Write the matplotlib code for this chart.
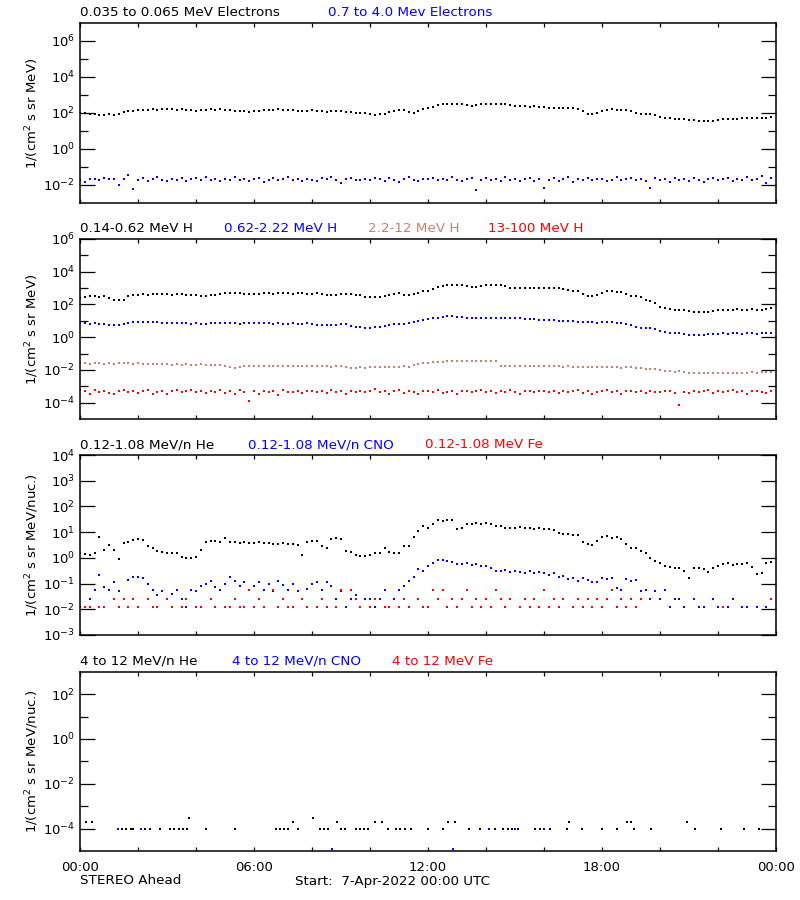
import matplotlib

matplotlib.use("Agg")
import matplotlib.pyplot as plt
import numpy as np
from matplotlib.ticker import NullFormatter

plt.rcParams["font.family"] = ["DejaVu Sans"]
plt.rcParams["font.size"] = 9

# 10-minute samples over 7-Apr-2022, log10 of the flux
hours = np.arange(144) / 6.0
nan = np.nan

# panel 1: electrons
e_lo_log = [
    2.0, 1.98, 1.95, 1.92, 1.9, 1.9, 1.92, 1.9, 1.95, 2.05, 2.1, 2.12,
    2.15, 2.18, 2.16, 2.2, 2.18, 2.2, 2.22, 2.2, 2.18, 2.2, 2.16, 2.14,
    2.12, 2.15, 2.18, 2.2, 2.18, 2.2, 2.18, 2.15, 2.12, 2.1, 2.1, 2.08,
    2.1, 2.12, 2.14, 2.15, 2.17, 2.2, 2.18, 2.16, 2.15, 2.12, 2.1, 2.12,
    2.14, 2.12, 2.1, 2.08, 2.1, 2.12, 2.1, 2.05, 2.03, 2.02, 2.0, 1.98,
    1.92, 1.9, 1.92, 1.95, 2.05, 2.12, 2.17, 2.15, 2.05, 2.0, 2.1, 2.2,
    2.28, 2.35, 2.42, 2.48, 2.5, 2.52, 2.5, 2.48, 2.45, 2.4, 2.42, 2.48,
    2.5, 2.52, 2.5, 2.5, 2.48, 2.45, 2.4, 2.38, 2.37, 2.36, 2.38, 2.36,
    2.32, 2.3, 2.28, 2.28, 2.3, 2.28, 2.27, 2.25, 2.1, 1.97, 1.95, 2.0,
    2.1, 2.18, 2.2, 2.18, 2.17, 2.16, 2.1, 2.0, 1.95, 1.96, 1.93, 1.9,
    1.8, 1.72, 1.7, 1.68, 1.66, 1.65, 1.62, 1.6, 1.58, 1.55, 1.53, 1.55,
    1.62, 1.66, 1.68, 1.68, 1.66, 1.7, 1.72, 1.7, 1.72, 1.74, 1.75, 1.76,
]
e_hi_log = [
    -1.72, -1.82, -1.68, -1.66, -1.7, -1.62, -1.68, -1.64, -1.98, -1.66, -1.42, -2.2,
    -1.7, -1.62, -1.75, -1.68, -1.58, -1.72, -1.8, -1.65, -1.7, -1.6, -1.76, -1.66,
    -1.62, -1.7, -1.56, -1.74, -1.68, -1.8, -1.64, -1.7, -1.58, -1.72, -1.66, -1.75,
    -1.68, -1.6, -1.85, -1.7, -1.62, -1.74, -1.66, -1.58, -1.72, -1.68, -1.8, -1.64,
    -1.7, -1.76, -1.62, -1.68, -1.56, -1.72, -1.9, -1.66, -1.6, -1.74, -1.7, -1.64,
    -1.72, -1.6, -1.68, -1.78, -1.62, -1.7, -1.84, -1.66, -1.58, -1.72, -1.76, -1.64,
    -1.68, -1.6, -1.74, -1.66, -1.72, -1.58, -1.7, -1.8, -1.64, -1.62, -2.3, -1.7,
    -1.62, -1.72, -1.66, -1.8, -1.58, -1.7, -1.64, -1.75, -1.68, -1.6, -1.78, -1.66,
    -2.14, -1.7, -1.62, -1.76, -1.68, -1.58, -1.82, -1.66, -1.72, -1.6, -1.74, -1.68,
    -1.64, -1.8, -1.7, -1.58, -1.74, -1.66, -1.6, -1.72, -1.68, -1.78, -2.14, -1.62,
    -1.7, -1.66, -1.84, -1.6, -1.72, -1.68, -1.76, -1.62, -1.7, -1.82, -1.66, -1.6,
    -1.74, -1.68, -1.62, -1.78, -1.66, -1.72, -1.58, -1.7, -1.64, -1.52, -1.88, -1.6,
]

# panel 2: protons
h_lo_log = [
    2.41, 2.45, 2.5, 2.52, 2.48, 2.5, 2.42, 2.3, 2.28, 2.3, 2.5, 2.58,
    2.6, 2.62, 2.6, 2.63, 2.61, 2.64, 2.62, 2.6, 2.62, 2.63, 2.6, 2.58,
    2.55, 2.52, 2.53, 2.55, 2.6, 2.65, 2.68, 2.7, 2.69, 2.68, 2.66, 2.64,
    2.63, 2.66, 2.68, 2.67, 2.66, 2.68, 2.7, 2.68, 2.66, 2.67, 2.69, 2.66,
    2.65, 2.67, 2.64, 2.6, 2.58, 2.6, 2.62, 2.64, 2.66, 2.6, 2.55, 2.48,
    2.45, 2.44, 2.46, 2.5, 2.55, 2.62, 2.67, 2.6, 2.57, 2.62, 2.72, 2.8,
    2.85, 2.95, 3.05, 3.12, 3.18, 3.2, 3.18, 3.16, 3.1, 3.06, 3.05, 3.1,
    3.16, 3.18, 3.18, 3.17, 3.1, 3.02, 3.0, 2.99, 2.98, 2.98, 3.0, 2.98,
    3.0, 3.02, 3.03, 3.0, 2.95, 2.88, 2.82, 2.8, 2.65, 2.5, 2.49, 2.6,
    2.7, 2.82, 2.81, 2.78, 2.75, 2.65, 2.52, 2.5, 2.45, 2.25, 2.2, 2.1,
    1.82, 1.76, 1.7, 1.68, 1.66, 1.65, 1.62, 1.56, 1.54, 1.53, 1.55, 1.6,
    1.65, 1.68, 1.69, 1.68, 1.7, 1.69, 1.68, 1.7, 1.69, 1.66, 1.72, 1.76,
]
h_mid_log = [
    0.84, 0.85, 0.82, 0.84, 0.83, 0.8, 0.76, 0.75, 0.74, 0.8, 0.88, 0.9,
    0.9, 0.92, 0.9, 0.91, 0.9, 0.88, 0.86, 0.85, 0.84, 0.85, 0.84, 0.83,
    0.84, 0.82, 0.83, 0.85, 0.84, 0.86, 0.84, 0.85, 0.84, 0.83, 0.84, 0.85,
    0.84, 0.84, 0.85, 0.84, 0.83, 0.84, 0.82, 0.83, 0.84, 0.83, 0.82, 0.84,
    0.78, 0.74, 0.72, 0.72, 0.74, 0.76, 0.8, 0.78, 0.7, 0.64, 0.6, 0.58,
    0.58, 0.6, 0.62, 0.66, 0.72, 0.78, 0.82, 0.82, 0.84, 0.9, 0.98, 1.02,
    1.1, 1.16, 1.2, 1.25, 1.27, 1.28, 1.26, 1.22, 1.2, 1.18, 1.17, 1.16,
    1.16, 1.17, 1.16, 1.17, 1.16, 1.15, 1.16, 1.15, 1.14, 1.12, 1.1, 1.08,
    1.06, 1.04, 1.02, 1.0, 0.98, 0.98, 0.96, 0.95, 0.94, 0.92, 0.9, 0.88,
    0.9, 0.92, 0.9, 0.88, 0.86, 0.8, 0.72, 0.62, 0.58, 0.56, 0.55, 0.5,
    0.35, 0.29, 0.28, 0.27, 0.25, 0.2, 0.15, 0.12, 0.11, 0.13, 0.18, 0.22,
    0.22, 0.23, 0.22, 0.24, 0.23, 0.22, 0.24, 0.23, 0.22, 0.25, 0.24, 0.23,
]
h_hi_log = [
    -1.6, -1.58, -1.62, -1.6, -1.59, -1.61, -1.6, -1.62, -1.6, -1.58, -1.6, -1.61,
    -1.6, -1.62, -1.63, -1.62, -1.64, -1.66, -1.65, -1.67, -1.66, -1.68, -1.66, -1.67,
    -1.68, -1.66, -1.67, -1.68, -1.7, -1.72, -1.78, -1.85, -1.87, -1.8, -1.78, -1.79,
    -1.78, -1.76, -1.78, -1.77, -1.76, -1.78, -1.77, -1.76, -1.78, -1.77, -1.79, -1.78,
    -1.77, -1.78, -1.76, -1.78, -1.8, -1.78, -1.77, -1.82, -1.86, -1.87, -1.85, -1.86,
    -1.84, -1.82, -1.8, -1.81, -1.8, -1.82, -1.8, -1.79, -1.8, -1.72, -1.65, -1.6,
    -1.58, -1.54, -1.52, -1.5, -1.48, -1.46, -1.46, -1.45, -1.46, -1.45, -1.46, -1.44,
    -1.45, -1.46, -1.44, -1.74, -1.76, -1.75, -1.77, -1.76, -1.75, -1.76, -1.74, -1.75,
    -1.76, -1.75, -1.77, -1.78, -1.8, -1.79, -1.8, -1.82, -1.81, -1.82, -1.8, -1.82,
    -1.82, -1.83, -1.82, -1.84, -1.86, -1.85, -1.84, -1.88, -1.9, -1.95, -1.94, -1.96,
    -2.0, -2.05, -2.08, -2.1, -2.06, -2.1, -2.16, -2.18, -2.2, -2.19, -2.2, -2.21,
    -2.2, -2.21, -2.2, -2.19, -2.2, -2.21, -2.18, -2.15, -2.16, -2.14, -2.15, -2.14,
]
h_vhi_log = [
    -3.22, -3.3, -3.45, -3.25, -3.35, -3.28, -3.4, -3.5, -3.3, -3.2, -3.36, -3.26,
    -3.4, -3.3, -3.22, -3.45, -3.32, -3.28, -3.5, -3.3, -3.24, -3.38, -3.3, -3.2,
    -3.34, -3.28, -3.42, -3.3, -3.36, -3.25, -3.4, -3.3, -3.5, -3.22, -3.34, -3.9,
    -3.3, -3.45, -3.26, -3.36, -3.3, -3.52, -3.24, -3.32, -3.38, -3.28, -3.42, -3.3,
    -3.26, -3.36, -3.3, -3.4, -3.22, -3.34, -3.28, -3.48, -3.3, -3.36, -3.26, -3.32,
    -3.3, -3.18, -3.38, -3.28, -3.45, -3.3, -3.24, -3.4, -3.3, -3.36, -3.5, -3.26,
    -3.3, -3.36, -3.22, -3.4, -3.32, -3.28, -3.45, -3.3, -3.26, -3.38, -3.3, -3.22,
    -3.34, -3.28, -3.42, -3.3, -3.36, -3.24, -3.32, -3.46, -3.3, -3.28, -3.38, -3.3,
    -3.26, -3.34, -3.3, -3.44, -3.28, -3.36, -3.3, -3.22, -3.4, -3.3, -3.5, -3.32,
    -3.3, -3.22, -3.38, -3.28, -3.46, -3.3, -3.26, -3.36, -3.3, -3.42, -3.28, -3.34,
    -3.38, -3.3, -3.26, -3.4, -4.15, -3.34, -3.44, -3.28, -3.36, -3.3, -3.22, -3.4,
    -3.3, -3.36, -3.28, -3.22, -3.38, -3.3, -3.45, -3.3, -3.26, -3.34, -3.4, -3.3,
]

# panel 3: low energy heavy ions
he_lo_log = [
    0.19, 0.15, 0.12, 0.2, 0.8, 0.3, 0.5, 0.32, -0.04, 0.58, 0.62, 0.7,
    0.72, 0.7, 0.45, 0.4, 0.26, 0.24, 0.2, 0.18, 0.2, 0.02, 0.0, -0.02,
    0.05, 0.32, 0.6, 0.65, 0.66, 0.62, 0.78, 0.6, 0.62, 0.58, 0.6, 0.56,
    0.58, 0.6, 0.56, 0.58, 0.55, 0.54, 0.56, 0.52, 0.54, 0.5, 0.13, 0.6,
    0.65, 0.66, 0.45, 0.39, 0.74, 0.76, 0.72, 0.26, 0.22, 0.1, 0.06, 0.08,
    0.12, 0.19, 0.2, 0.38, 0.22, 0.18, 0.2, 0.45, 0.48, 0.8, 1.05, 1.24,
    1.17, 1.3, 1.46, 1.45, 1.46, 1.48, 1.12, 1.15, 1.3, 1.33, 1.35, 1.32,
    1.34, 1.3, 1.25, 1.22, 1.17, 1.18, 1.16, 1.2, 1.17, 1.15, 1.13, 1.18,
    1.12, 1.14, 1.1, 0.98, 0.92, 0.91, 0.88, 0.9, 0.62, 0.52, 0.5, 0.65,
    0.82, 0.85, 0.78, 0.8, 0.75, 0.55, 0.4, 0.39, 0.25, 0.19, 0.0, -0.13,
    -0.2, -0.3, -0.36, -0.4, -0.39, -0.5, -0.78, -0.4, -0.38, -0.42, -0.55, -0.39,
    -0.3, -0.23, -0.2, -0.28, -0.22, -0.25, -0.2, -0.35, -0.61, -0.6, -0.2, -0.16,
]
cno_lo_log = [
    -1.92, -1.92, -1.6, -1.26, -0.65, -1.15, -1.26, -0.95, -1.3, -1.6, -0.85, -0.74,
    -0.74, -0.8, -1.0, -1.26, -1.45, -1.3, -1.6, -1.4, -1.26, -1.6, -1.92, -1.26,
    -1.3, -1.1, -1.0, -0.9, -1.15, -1.26, -1.0, -0.74, -0.9, -1.1, -0.95, -1.26,
    -1.1, -0.95, -1.26, -1.0, -1.3, -0.9, -1.05, -1.26, -1.0, -1.3, -1.6, -1.2,
    -1.0, -0.92, -1.26, -0.95, -1.1, -1.6, -1.3, -1.92, -1.6, -1.45, -1.92, -1.6,
    -1.6, -1.92, -1.6, -1.26, -1.92, -1.6, -1.26, -1.1, -0.9, -0.75, -0.45, -0.5,
    -0.33, -0.2, -0.09, -0.1, -0.12, -0.15, -0.22, -0.25, -0.2, -0.28, -0.23, -0.3,
    -0.3, -0.4, -0.5, -0.52, -0.48, -0.56, -0.5, -0.55, -0.6, -0.52, -0.58, -0.55,
    -0.6, -0.66, -0.58, -0.75, -0.7, -0.84, -0.8, -0.9, -0.78, -0.85, -0.92, -0.95,
    -0.8, -0.84, -0.78, -1.17, -1.26, -0.84, -0.9, -0.88, -1.3, -1.26, -1.6, -1.3,
    -1.6, -1.26, -1.92, -1.6, -1.6, -1.92, nan, -1.6, -1.92, -1.92, nan, -1.6,
    -1.92, nan, -1.92, -1.6, nan, -1.92, -1.92, nan, -1.92, nan, -1.92, -1.6,
]
fe_lo_log = [
    -1.92, -1.92, -1.92, nan, -1.92, -1.92, nan, -1.6, -1.92, -1.6, -1.92, -1.6,
    -1.92, nan, -1.6, -1.92, -1.92, nan, -1.6, -1.92, nan, -1.92, -1.6, nan,
    -1.92, -1.92, nan, -1.6, -1.92, nan, -1.92, -1.92, -1.6, -1.92, -1.92, -1.26,
    -1.92, -1.6, -1.92, nan, -1.26, -1.92, -1.6, -1.92, -1.92, nan, -1.6, -1.92,
    nan, -1.92, -1.6, -1.92, nan, -1.92, -1.26, nan, -1.26, -1.6, -1.92, nan,
    -1.92, -1.6, nan, -1.92, -1.92, nan, -1.92, -1.6, -1.92, nan, -1.6, -1.92,
    -1.92, -1.26, -1.6, -1.26, -1.92, -1.6, -1.92, -1.6, -1.26, -1.92, -1.6, -1.92,
    -1.6, -1.92, -1.26, -1.6, -1.92, -1.6, nan, -1.92, -1.6, -1.92, -1.6, -1.92,
    -1.26, -1.92, -1.6, -1.92, -1.6, nan, -1.92, -1.6, -1.92, -1.6, -1.92, -1.6,
    -1.92, -1.6, -1.26, -1.92, -1.6, -1.92, -1.6, -1.92, -1.6, nan, nan, nan,
    nan, nan, nan, nan, nan, nan, nan, nan, nan, nan, nan, nan,
    nan, -1.92, nan, nan, nan, nan, nan, nan, nan, nan, nan, -1.6,
]

# panel 4: 4-12 MeV/n ions, sparse counts
he_hi_hours = [0.2, 0.41, 1.31, 1.45, 1.6, 1.75, 1.83, 2.1, 2.25, 2.4, 2.75, 3.1,
               3.25, 3.4, 3.55, 3.7, 3.75, 4.36, 5.33, 6.77, 6.9, 7.03, 7.17, 7.34,
               7.52, 8.03, 8.26, 8.4, 8.55, 8.86, 9.0, 9.13, 9.53, 9.67, 9.8, 9.93,
               10.16, 10.41, 10.62, 10.9, 11.05, 11.2, 11.4, 12.0, 12.5, 12.69, 12.92, 13.4,
               13.8, 14.3, 14.6, 14.75, 14.9, 15.1, 15.7, 15.85, 16.0, 16.2, 16.8, 16.86,
               17.3, 18.0, 18.5, 18.86, 19.0, 19.1, 19.7, 20.93, 21.2, 22.1, 22.9, 23.4]
he_hi_log = [-3.7, -3.7, -4, -4, -4, -4, -4, -4, -4, -4, -4, -4,
             -4, -4, -4, -4, -3.53, -4, -4, -4, -4, -4, -4, -3.7,
             -4, -3.53, -4, -4, -4, -3.7, -4, -4, -4, -4, -4, -4,
             -3.7, -3.7, -4, -4, -4, -4, -4, -4, -4, -3.7, -3.7, -4,
             -4, -4, -4, -4, -4, -4, -4, -4, -4, -4, -4, -3.7,
             -4, -4, -4, -3.7, -3.7, -4, -4, -3.7, -4, -4, -4, -4]
cno_hi_hours = [1.3, 2.1, 8.69, 12.86, 14.1, 15.0, 16.0]
cno_hi_log = [-4, -4, -4.9, -4.9, -4, -4, -4]

SIENNA = "#c8806a"
W, H = 800, 900


def fx(px):
    return px / W


def fy(py):
    return 1 - py / H


def style_axis(ax, ylim, major, minor):
    ax.set_yscale("log")
    ax.set_xlim(0, 24)
    ax.set_ylim(*ylim)
    ax.set_yticks(major)
    ax.set_yticks(minor, minor=True)
    ax.yaxis.set_minor_formatter(NullFormatter())
    ax.set_xticks([0, 6, 12, 18, 24])
    ax.set_xticks(np.arange(0, 25, 2), minor=True)
    ax.tick_params(axis="y", which="major", direction="in", length=10.5,
                   width=0.9, left=True, right=True, labelsize=9.5)
    ax.tick_params(axis="y", which="minor", direction="in", length=5.5,
                   width=0.9, left=True, right=True)
    ax.tick_params(axis="x", which="both", direction="in", length=3,
                   width=0.9, top=True, bottom=True, labelbottom=False)
    for sp in ax.spines.values():
        sp.set_linewidth(1.1)


def dots(ax, x, logs, color):
    ax.plot(x, 10 ** np.asarray(logs, dtype=float), ls="none", marker="s",
            ms=1.9, mew=0, color=color)


fig = plt.figure(figsize=(8, 9), dpi=100)

rows = [(23, 203), (239, 419), (455, 635), (671.7, 851)]
axes = []
for top, bot in rows:
    axes.append(fig.add_axes([fx(80), fy(bot), fx(776) - fx(80), (bot - top) / H]))
ax1, ax2, ax3, ax4 = axes

dots(ax1, hours, e_lo_log, "black")
dots(ax1, hours, e_hi_log, "blue")
style_axis(ax1, (1e-3, 1e7), [1e-2, 1e0, 1e2, 1e4, 1e6], [1e-1, 1e1, 1e3, 1e5])

dots(ax2, hours, h_lo_log, "black")
dots(ax2, hours, h_mid_log, "blue")
dots(ax2, hours, h_hi_log, SIENNA)
dots(ax2, hours, h_vhi_log, "red")
style_axis(ax2, (1e-5, 1e6), [1e-4, 1e-2, 1e0, 1e2, 1e4, 1e6], [1e-3, 1e-1, 1e1, 1e3, 1e5])

dots(ax3, hours, he_lo_log, "black")
dots(ax3, hours, cno_lo_log, "blue")
dots(ax3, hours, fe_lo_log, "red")
style_axis(ax3, (1e-3, 1e4), [10.0 ** k for k in range(-3, 5)], [])

dots(ax4, he_hi_hours, he_hi_log, "black")
dots(ax4, cno_hi_hours, cno_hi_log, "blue")
style_axis(ax4, (1e-5, 1e3), [1e-4, 1e-2, 1e0, 1e2], [1e-3, 1e-1, 1e1])
ax4.tick_params(axis="x", labelbottom=True, labelsize=9.5, pad=7)
ax4.set_xticklabels(["00:00", "06:00", "12:00", "18:00", "00:00"])

ylab1 = "1/(cm$^2$ s sr MeV)"
ylab2 = "1/(cm$^2$ s sr MeV/nuc.)"
for ax, lab in zip(axes, [ylab1, ylab1, ylab2, ylab2]):
    ax.set_ylabel(lab, fontsize=9.5)
    ax.yaxis.set_label_coords(-0.056, 0.5)

titles = [
    (13, [(80, "0.035 to 0.065 MeV Electrons", "black"),
          (328, "0.7 to 4.0 Mev Electrons", "blue")]),
    (229, [(80, "0.14-0.62 MeV H", "black"),
           (224, "0.62-2.22 MeV H", "blue"),
           (368, "2.2-12 MeV H", SIENNA),
           (488, "13-100 MeV H", "red")]),
    (445, [(80, "0.12-1.08 MeV/n He", "black"),
           (248, "0.12-1.08 MeV/n CNO", "blue"),
           (425, "0.12-1.08 MeV Fe", "red")]),
    (661.5, [(80, "4 to 12 MeV/n He", "black"),
             (232, "4 to 12 MeV/n CNO", "blue"),
             (392, "4 to 12 MeV Fe", "red")]),
]
for py, items in titles:
    for px, txt, col in items:
        fig.text(fx(px), fy(py), txt, color=col, fontsize=9.7, va="center", ha="left")

fig.text(fx(80), fy(881), "STEREO Ahead", fontsize=9.7, va="center", ha="left")
fig.text(fx(295), fy(881), "Start:  7-Apr-2022 00:00 UTC", fontsize=9.7,
         va="center", ha="left")

fig.savefig("out.png", dpi=100)
